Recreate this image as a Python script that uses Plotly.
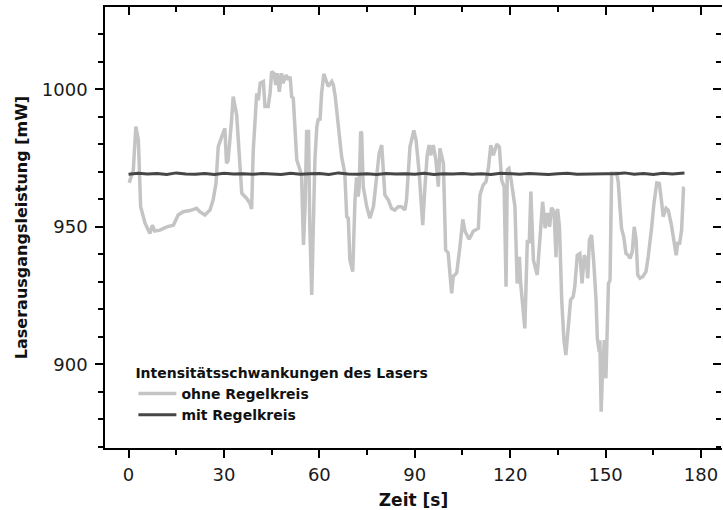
import plotly.graph_objects as go

# ---- data ----
t_ohne = [0.2, 1.5, 2.3, 3.1, 3.8, 5.2, 6.7, 7.5, 8.2, 9.9, 12.0, 14.1, 15.6, 17.2, 19.3, 21.4, 22.4, 24.0,
          25.6, 26.6, 27.5, 28.2, 29.3, 30.3, 30.8, 31.3, 32.4, 32.9, 34.0, 35.0, 35.6, 37.1, 38.2, 38.7,
          39.2, 40.3, 40.8, 41.4, 42.4, 42.9, 43.9, 44.5, 45.0, 45.7, 46.3, 46.8, 47.4, 48.1, 48.6, 49.5,
          50.2, 50.8, 51.3, 51.8, 52.9, 53.9, 54.4, 55.0, 55.5, 56.0, 56.6, 57.0, 57.6, 58.1, 58.6, 59.2,
          59.7, 60.2, 60.7, 61.4, 62.3, 62.8, 63.9, 64.4, 65.0, 65.9, 67.0, 68.0, 68.6, 69.1, 69.6, 70.5,
          71.2, 71.7, 72.2, 72.5, 73.0, 73.3, 73.8, 74.9, 75.9, 77.0, 78.0, 78.8, 79.6, 80.1, 80.6, 81.7,
          82.7, 83.7, 84.8, 85.8, 86.9, 87.4, 88.0, 88.5, 89.7, 90.4, 91.4, 92.5, 93.2, 93.9, 94.5, 95.0,
          95.8, 96.6, 97.4, 97.9, 99.0, 99.7, 100.5, 101.1, 101.6, 102.1, 103.2, 104.2, 105.1, 105.8,
          107.1, 108.4, 110.0, 110.5, 111.5, 112.4, 113.2, 113.9, 114.7, 115.8, 116.6, 117.3, 118.1,
          118.7, 119.1, 119.6, 120.3, 121.5, 122.2, 122.9, 123.3, 124.6, 125.4, 126.0, 126.5, 127.3,
          128.5, 129.4, 130.2, 131.0, 131.7, 132.4, 133.0, 133.8, 134.4, 134.9, 135.5, 136.2, 136.9,
          137.5, 138.3, 139.0, 139.8, 140.3, 141.1, 141.9, 142.6, 143.3, 143.9, 144.4, 144.9, 145.6,
          146.3, 147.0, 147.4, 148.0, 148.2, 148.6, 149.0, 149.6, 150.1, 150.9, 151.4, 151.9, 153.5,
          154.0, 154.5, 155.0, 155.7, 156.4, 157.1, 157.7, 158.4, 159.0, 159.6, 160.1, 160.8, 161.7,
          162.7, 163.4, 164.5, 165.2, 166.1, 166.9, 167.6, 168.1, 169.0, 169.7, 170.7, 171.4, 172.2,
          172.7, 173.3, 173.9, 174.5, 174.9]
p_ohne = [966.0, 970.6, 986.4, 981.6, 957.3, 951.3, 947.6, 950.6, 948.5, 948.8, 950.0, 950.6, 954.3, 955.5,
          955.9, 956.7, 955.5, 954.3, 956.1, 959.7, 965.8, 979.1, 982.8, 985.8, 973.1, 974.0, 988.8, 997.3,
          990.7, 974.3, 962.2, 960.4, 958.5, 956.5, 977.5, 998.5, 996.0, 1002.2, 1002.8, 993.7, 993.7,
          998.5, 1006.4, 1005.8, 1001.6, 1005.8, 999.1, 1005.8, 1002.2, 1005.2, 1003.4, 1004.6, 997.3,
          996.7, 974.3, 970.7, 968.8, 943.4, 957.0, 984.6, 984.6, 950.0, 925.2, 950.0, 974.3, 986.4,
          989.3, 988.7, 998.5, 1005.6, 1002.2, 1001.0, 1002.8, 1001.6, 997.3, 987.6, 975.5, 969.5,
          953.7, 953.1, 937.9, 933.7, 959.7, 968.0, 961.0, 964.0, 984.6, 984.0, 964.6, 957.3, 953.1,
          957.3, 968.2, 976.7, 979.7, 972.0, 961.6, 959.7, 956.7, 956.1, 957.3, 957.3, 956.1, 959.7,
          970.7, 979.1, 985.0, 981.6, 969.5, 950.6, 964.6, 976.1, 979.7, 976.0, 979.7, 974.6, 964.6,
          978.5, 973.1, 941.6, 940.5, 933.1, 925.8, 931.9, 933.3, 942.8, 952.7, 948.4, 945.5, 948.4,
          949.5, 961.6, 965.2, 966.4, 971.8, 979.7, 976.0, 980.1, 979.0, 967.0, 964.6, 928.2, 970.7,
          971.2, 967.0, 957.3, 929.4, 939.1, 929.4, 913.1, 945.2, 944.0, 962.8, 937.9, 932.5, 946.4,
          959.1, 949.5, 955.0, 950.0, 957.0, 955.5, 939.0, 956.5, 950.0, 923.4, 908.8, 903.4, 914.9,
          923.4, 924.6, 928.2, 939.7, 940.3, 929.4, 939.7, 937.9, 931.3, 945.2, 947.0, 936.7, 923.4,
          909.4, 904.5, 908.8, 882.8, 896.7, 908.8, 894.9, 929.4, 930.6, 969.5, 969.5, 966.0, 957.3,
          949.5, 946.4, 940.3, 939.7, 938.5, 941.0, 950.0, 945.2, 932.5, 931.3, 931.9, 933.7, 939.1,
          950.0, 958.5, 966.0, 965.8, 959.1, 953.7, 956.7, 956.0, 950.6, 945.2, 939.7, 944.0, 944.0,
          948.8, 964.0, 964.0]

t_mit = [0, 3, 6, 9, 12, 15, 18, 21, 24, 27, 30, 33, 36, 39, 42, 45, 48, 51, 54, 57, 60, 63, 66, 69, 72,
         75, 78, 81, 84, 87, 90, 93, 96, 99, 102, 105, 108, 111, 114, 117, 120, 123, 126, 129, 132, 135,
         138, 141, 144, 147, 150, 153, 156, 159, 162, 165, 168, 171, 174, 174.8]
p_mit = [969.1, 969.5, 969.2, 969.4, 969.0, 969.6, 969.2, 969.1, 969.4, 969.0, 969.5, 969.2, 969.3, 969.1,
         969.4, 969.2, 969.0, 969.5, 969.1, 969.3, 969.4, 969.0, 969.6, 969.2, 969.1, 969.3, 969.0, 969.4,
         969.2, 969.3, 969.1, 969.5, 969.0, 969.3, 969.2, 969.4, 969.1, 969.3, 969.0, 969.5, 969.2, 969.1,
         969.4, 969.2, 969.0, 969.3, 969.5, 969.1, 969.2, 969.4, 969.3, 969.3, 969.6, 969.1, 969.4, 969.0,
         969.5, 969.2, 969.4, 969.6]

x_range = [-7.4, 186.6]
y_range = [869.6, 1029.9]
x_ticks = [0, 30, 60, 90, 120, 150, 180]
y_ticks = [900, 950, 1000]

legend_title = "Intensitätsschwankungen des Lasers"
name_ohne = "ohne Regelkreis"
name_mit = "mit Regelkreis"

# ---- figure ----
fig = go.Figure()
fig.add_trace(go.Scatter(x=t_ohne, y=p_ohne, mode="lines", name=name_ohne,
                         line=dict(color="#c4c4c4", width=3.5)))
fig.add_trace(go.Scatter(x=t_mit, y=p_mit, mode="lines", name=name_mit,
                         line=dict(color="#464646", width=3)))
fig.add_trace(go.Scatter(x=[0], y=[969], xaxis="x2", yaxis="y2", mode="markers",
                         marker=dict(opacity=0), showlegend=False, hoverinfo="skip"))

tickfont = dict(family="DejaVu Sans", size=18, color="#1a1a1a")
fig.update_layout(
    width=723, height=510,
    margin=dict(l=105, r=1, t=7, b=62),
    plot_bgcolor="white", paper_bgcolor="white",
    showlegend=True,
    legend=dict(x=0.046, y=0.2, xanchor="left", yanchor="top", itemwidth=38,
                title=dict(text="<b>" + legend_title + "</b>",
                           font=dict(family="DejaVu Sans", size=14, color="#111")),
                font=dict(family="DejaVu Sans", size=14, color="#111", weight="bold"),
                bgcolor="rgba(0,0,0,0)", tracegroupgap=0),
    xaxis=dict(range=x_range, tickvals=x_ticks, ticktext=[str(v) for v in x_ticks],
               ticks="outside", ticklen=8, tickwidth=1.5, tickcolor="black",
               minor=dict(dtick=15, tick0=0, ticks="outside", ticklen=5, tickwidth=1.5, tickcolor="black"),
               showline=True, linewidth=1.5, linecolor="black", showgrid=False, zeroline=False,
               tickfont=tickfont, ticklabelstandoff=2,
               title=dict(text="<b>Zeit [s]</b>", font=dict(family="DejaVu Sans", size=17, color="#111"),
                          standoff=10)),
    yaxis=dict(range=y_range, tickvals=y_ticks, ticktext=[str(v) for v in y_ticks],
               ticks="outside", ticklen=8, tickwidth=1.5, tickcolor="black",
               minor=dict(dtick=10, tick0=900, ticks="outside", ticklen=5, tickwidth=1.5, tickcolor="black"),
               showline=True, linewidth=1.5, linecolor="black", showgrid=False, zeroline=False,
               tickfont=tickfont, ticklabelstandoff=4,
               title=dict(text="<b>Laserausgangsleistung [mW]</b>",
                          font=dict(family="DejaVu Sans", size=16, color="#111"), standoff=10)),
    xaxis2=dict(range=x_range, overlaying="x", side="top", anchor="y", tickvals=x_ticks,
                ticks="inside", ticklen=8, tickwidth=1.5, tickcolor="black",
                minor=dict(dtick=15, tick0=0, ticks="inside", ticklen=5, tickwidth=1.5, tickcolor="black"),
                showticklabels=False, showline=True, linewidth=1.5, linecolor="black",
                showgrid=False, zeroline=False),
    yaxis2=dict(range=y_range, overlaying="y", side="left", anchor="free", position=0.999,
                tickvals=y_ticks,
                ticks="outside", ticklen=8, tickwidth=1.5, tickcolor="black",
                minor=dict(dtick=10, tick0=900, ticks="outside", ticklen=5, tickwidth=1.5, tickcolor="black"),
                showticklabels=False, showline=False, showgrid=False, zeroline=False),
)

fig.write_html("out.html", config={"displayModeBar": False},
               post_script="document.body.style.margin='0';document.body.style.overflow='hidden';")
